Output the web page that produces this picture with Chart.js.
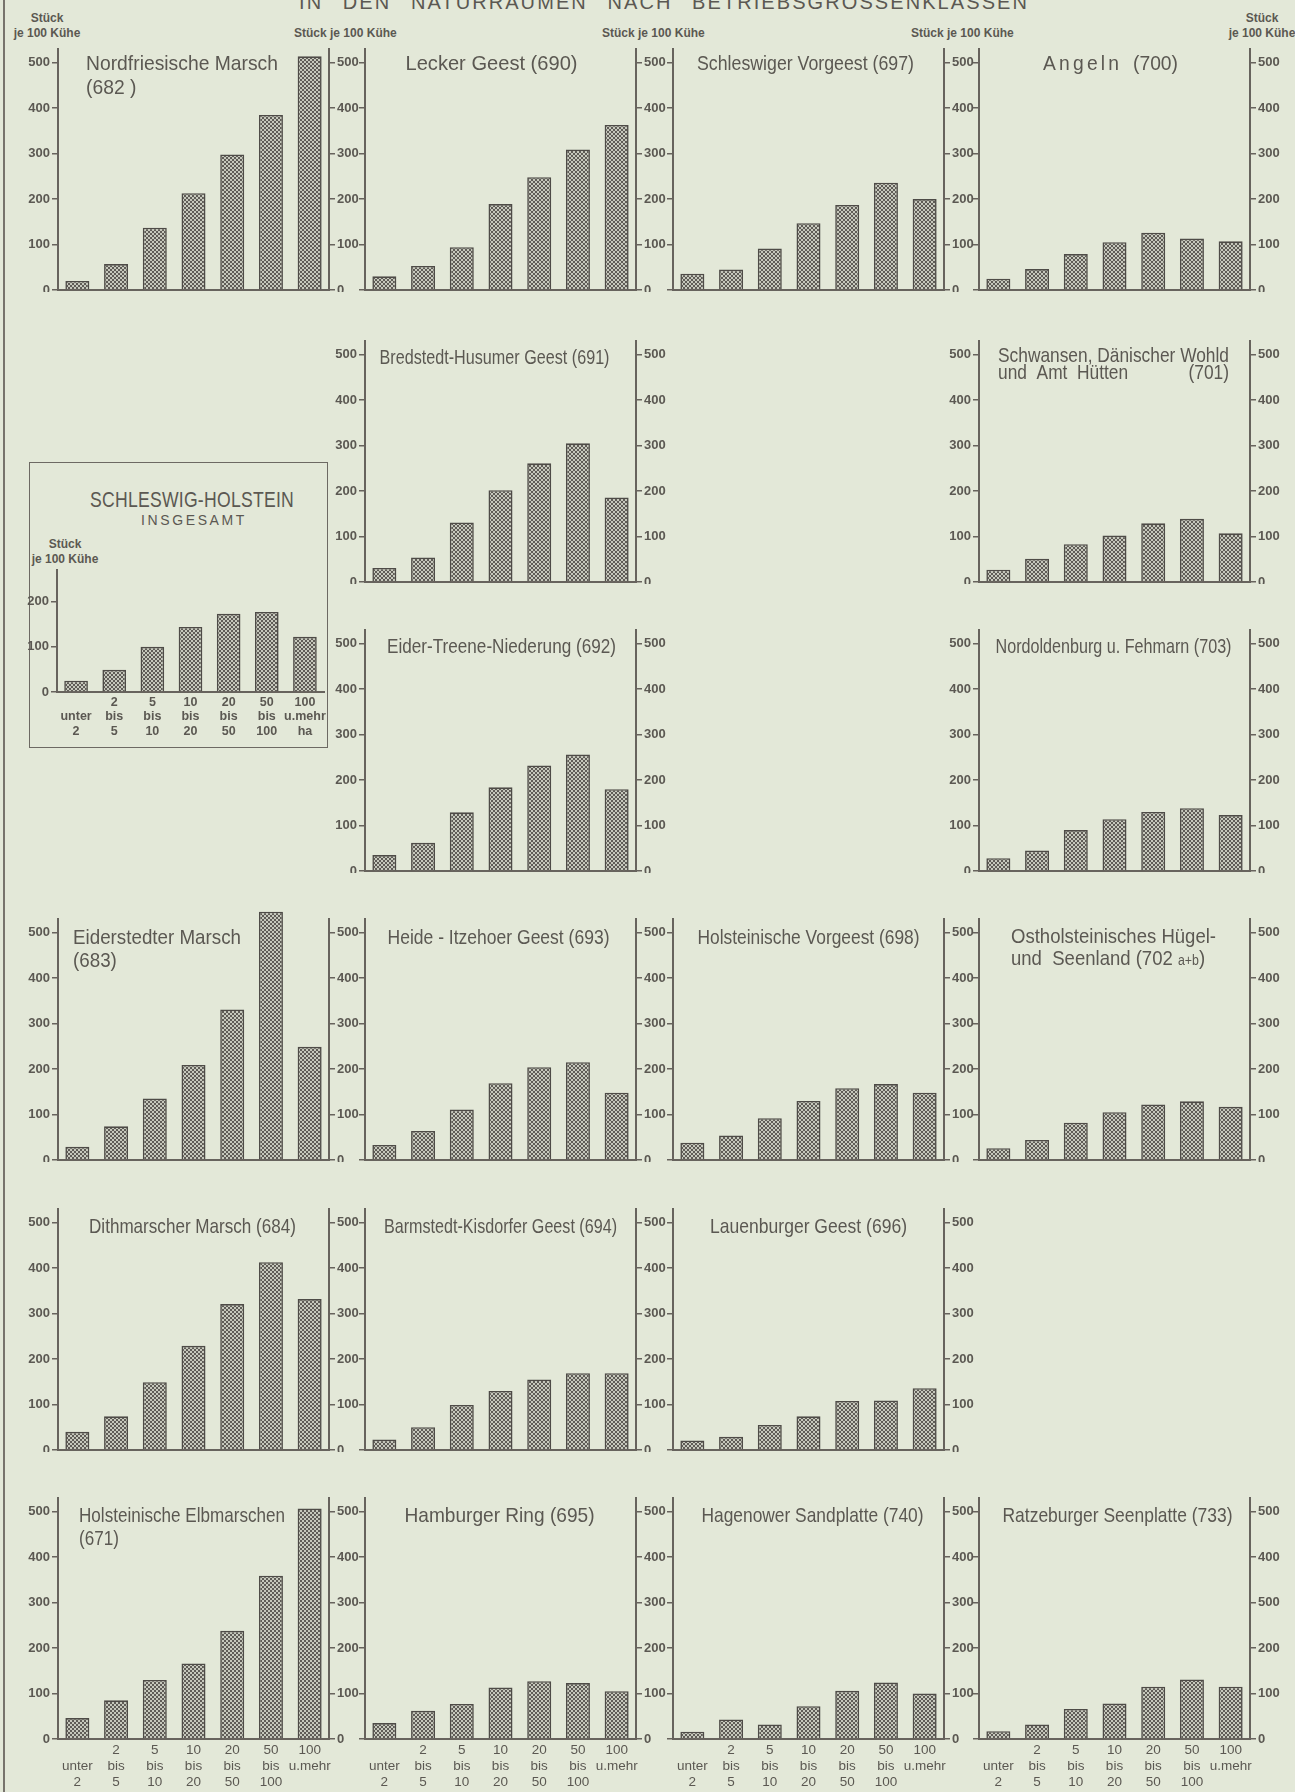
<!DOCTYPE html>
<html lang="de">
<head>
<meta charset="utf-8">
<title>Stück je 100 Kühe in den Naturräumen nach Betriebsgrößenklassen</title>
<script src="https://cdn.jsdelivr.net/npm/chart.js@4.4.1/dist/chart.umd.min.js"></script>
<style>
  html, body { margin: 0; padding: 0; background: #e3e8d8; }
  body {
    width: 1295px; height: 1792px; position: relative; overflow: hidden;
    font-family: 'Liberation Sans', Arial, sans-serif;
    color: #5b5852;
  }
  .frame { position: absolute; left: 3px; top: 0; width: 2px; height: 1792px; background: #77736c; }
  .txt { position: absolute; white-space: nowrap; transform-origin: 0 0; }
  .head { top: -8px; font-size: 20px; line-height: 20px; word-spacing: 12px; }
  .unit { font-weight: bold; font-size: 12px; line-height: 15px; text-align: center; }
  .box { position: absolute; left: 29px; top: 462px; width: 297px; height: 284px; border: 1.5px solid #6d6963; }
  canvas { position: absolute; }
</style>
</head>
<body>
<div class="frame"></div>
<div class="txt head" id="head">IN DEN NATURRÄUMEN NACH BETRIEBSGRÖSSENKLASSEN</div>

<div class="txt unit" style="left:7px;width:80px;top:11px;">Stück<br>je 100 Kühe</div>
<div class="txt unit" style="left:294px;width:100px;top:26px;">Stück je 100 Kühe</div>
<div class="txt unit" style="left:602px;width:100px;top:26px;">Stück je 100 Kühe</div>
<div class="txt unit" style="left:911px;width:100px;top:26px;">Stück je 100 Kühe</div>
<div class="txt unit" style="left:1222px;width:80px;top:11px;">Stück<br>je 100 Kühe</div>

<div class="box"></div>
<div class="txt" id="boxTitle" style="top:489px;font-size:22px;line-height:22px;">SCHLESWIG-HOLSTEIN</div>
<div class="txt" id="boxSub" style="top:513px;font-size:14px;line-height:14px;">INSGESAMT</div>
<div class="txt unit" style="left:25px;width:80px;top:537px;">Stück<br>je 100 Kühe</div>

<script>
// ---- size classes (ha) ----
const sizeClasses = [['', 'unter', '2'], ['2', 'bis', '5'], ['5', 'bis', '10'], ['10', 'bis', '20'],
                     ['20', 'bis', '50'], ['50', 'bis', '100'], ['100', 'u.mehr', '']];
const sizeClassesHa = [['', 'unter', '2'], ['2', 'bis', '5'], ['5', 'bis', '10'], ['10', 'bis', '20'],
                       ['20', 'bis', '50'], ['50', 'bis', '100'], ['100', 'u.mehr', 'ha']];

// ---- axis ticks ----
const yTicks = [0, 100, 200, 300, 400, 500];
const yTickLabels = ['0', '100', '200', '300', '400', '500'];
const ratzeburgerRightLabels = ['0', '100', '200', '500', '400', '500'];
const totalTicks = [0, 100, 200];
const totalTickLabels = ['0', '100', '200'];

// ---- Stück je 100 Kühe per size class ----
const nordfriesischeMarsch     = [20, 57, 137, 213, 298, 385, 514];
const leckerGeest              = [30, 53, 94, 189, 248, 309, 363];
const schleswigerVorgeest      = [36, 45, 91, 147, 187, 236, 200];
const angeln                   = [25, 46, 79, 105, 126, 113, 107];
const bredstedtHusumerGeest    = [31, 54, 131, 202, 261, 305, 186];
const schwansenDaenWohld       = [27, 51, 83, 102, 129, 139, 107];
const eiderTreeneNiederung     = [35, 62, 129, 184, 232, 256, 180];
const nordoldenburgFehmarn     = [28, 45, 90, 114, 130, 138, 123];
const eiderstedterMarsch       = [29, 74, 135, 209, 331, 546, 249];
const heideItzehoerGeest       = [33, 64, 111, 169, 204, 215, 148];
const holsteinischeVorgeest    = [38, 54, 92, 130, 158, 167, 148];
const ostholsteinHuegelland    = [26, 44, 82, 105, 122, 129, 117];
const dithmarscherMarsch       = [40, 74, 149, 229, 321, 413, 332];
const barmstedtKisdorferGeest  = [23, 50, 99, 130, 155, 169, 169];
const lauenburgerGeest         = [21, 29, 55, 74, 108, 109, 136];
const holsteinischeElbmarschen = [46, 85, 130, 166, 238, 359, 507];
const hamburgerRing            = [35, 62, 77, 113, 127, 123, 105];
const hagenowerSandplatte      = [16, 43, 32, 72, 106, 124, 100];
const ratzeburgerSeenplatte    = [17, 32, 66, 78, 115, 131, 115];
const schleswigHolstein        = [25, 49, 100, 144, 173, 177, 122];

// ---- look ----
const FONT = "'Liberation Sans', Arial, sans-serif";
const INK = '#5b5852';
const AXIS = '#67635d';
const BAR_EDGE = '#4e4b47';
Chart.defaults.font.family = FONT;
Chart.defaults.color = INK;

// spread or squeeze a line of HTML lettering to a given width around a centre
function fitText(el, centerX, width, sx) {
  el.style.letterSpacing = '0px';
  const w0 = el.getBoundingClientRect().width;
  const n = el.textContent.length;
  const ls = (width / sx - w0) / n;
  el.style.letterSpacing = ls + 'px';
  el.style.transform = `scaleX(${sx})`;
  el.style.left = (centerX - width / 2) + 'px';
}
fitText(document.getElementById('head'), 664, 730, 1);
fitText(document.getElementById('boxTitle'), 192, 204, 0.8);
fitText(document.getElementById('boxSub'), 194, 106, 1);

// fine checkered fill of the bars
function checkerPattern() {
  const t = document.createElement('canvas');
  t.width = 4; t.height = 4;
  const c = t.getContext('2d');
  c.fillStyle = '#c6c8bc'; c.fillRect(0, 0, 4, 4);
  c.fillStyle = '#5f5c57'; c.fillRect(0, 0, 2, 2); c.fillRect(2, 2, 2, 2);
  return c.createPattern(t, 'repeat');
}

// region name written inside the plot area; the first line is squeezed to width w
const panelTitle = {
  id: 'panelTitle',
  afterDraw(chart, args, o) {
    if (!o || !o.lines) return;
    const { ctx, chartArea: a } = chart;
    ctx.save();
    ctx.fillStyle = INK;
    ctx.textBaseline = 'alphabetic';
    ctx.textAlign = 'left';
    const size = o.size || 21;
    const norm = l => (typeof l === 'string' ? [{ t: l }] : l);
    const rawW = s => {
      if (s.fill) return 0;
      ctx.font = `${s.size || size}px ${FONT}`;
      ctx.letterSpacing = (s.ls || 0) + 'px';
      return ctx.measureText(s.t).width;
    };
    const rawLineW = l => norm(l).reduce((w, s) => w + rawW(s), 0);
    const sx = o.w ? o.w / rawLineW(o.lines[0]) : 0.9;
    const firstW = rawLineW(o.lines[0]) * sx;
    o.lines.forEach((line, i) => {
      const segs = norm(line);
      const natural = rawLineW(line) * sx;
      const hasFill = segs.some(s => s.fill);
      const w = hasFill ? firstW : natural;
      let x = o.align === 'left' ? a.left + o.dx : (a.left + a.right) / 2 - w / 2 + (o.dx || 0);
      const y = a.top + (o.dy || 23) + i * (o.lh || 24);
      segs.forEach(s => {
        if (s.fill) { x += firstW - natural; return; }
        const sw = rawW(s) * sx;
        ctx.save();
        ctx.translate(x, y);
        ctx.scale(sx, 1);
        ctx.fillText(s.t, 0, 0);
        ctx.restore();
        x += sw;
      });
    });
    ctx.restore();
  }
};

// ---- grid of regions ----
const COLS = [58, 365, 673, 979];               // left axis of each column
const BASE = [290, 582, 871, 1160, 1450, 1739]; // zero line of each row
const PLOT_W = 271;
const Y_MAX = 530;
const PLOT_H = 241;
const AXIS_W = 34;

const panels = [
  { r: 0, c: 0, values: nordfriesischeMarsch, title: { align: 'left', dx: 28, dy: 21, lh: 24, w: 192, lines: ['Nordfriesische Marsch', '(682 )'] } },
  { r: 0, c: 1, values: leckerGeest, title: { dy: 21, dx: -9, w: 172, lines: ['Lecker Geest (690)'] } },
  { r: 0, c: 2, values: schleswigerVorgeest, title: { dy: 21, dx: -3, w: 217, lines: ['Schleswiger Vorgeest (697)'] } },
  { r: 0, c: 3, values: angeln, title: { dy: 21, dx: -4, w: 135, lines: [[{ t: 'Angeln', ls: 3.5 }, { t: '  (700)' }]] } },
  { r: 1, c: 1, values: bredstedtHusumerGeest, title: { dx: -6, w: 230, lines: ['Bredstedt-Husumer Geest (691)'] } },
  { r: 1, c: 3, values: schwansenDaenWohld, title: { align: 'left', dx: 19, dy: 21, lh: 17, w: 231, lines: ['Schwansen, Dänischer Wohld', [{ t: 'und  Amt  Hütten' }, { fill: true }, { t: '(701)' }]] } },
  { r: 2, c: 1, values: eiderTreeneNiederung, title: { dx: 1, w: 229, lines: ['Eider-Treene-Niederung (692)'] } },
  { r: 2, c: 3, values: nordoldenburgFehmarn, title: { dx: -1, w: 236, lines: ['Nordoldenburg u. Fehmarn (703)'] } },
  { r: 3, c: 0, values: eiderstedterMarsch, title: { align: 'left', dx: 15, dy: 25, lh: 23, w: 168, lines: ['Eiderstedter Marsch', '(683)'] } },
  { r: 3, c: 1, values: heideItzehoerGeest, title: { dy: 25, dx: -2, w: 222, lines: ['Heide - Itzehoer Geest (693)'] } },
  { r: 3, c: 2, values: holsteinischeVorgeest, title: { dy: 25, w: 222, lines: ['Holsteinische Vorgeest (698)'] } },
  { r: 3, c: 3, values: ostholsteinHuegelland, title: { align: 'left', dx: 32, dy: 24, lh: 22, w: 205, lines: ['Ostholsteinisches Hügel-', [{ t: 'und  Seenland (702 ' }, { t: 'a+b', size: 14 }, { t: ')' }]] } },
  { r: 4, c: 0, values: dithmarscherMarsch, title: { dy: 24, dx: -1, w: 207, lines: ['Dithmarscher Marsch (684)'] } },
  { r: 4, c: 1, values: barmstedtKisdorferGeest, title: { dy: 24, w: 233, lines: ['Barmstedt-Kisdorfer Geest (694)'] } },
  { r: 4, c: 2, values: lauenburgerGeest, title: { dy: 24, w: 197, lines: ['Lauenburger Geest (696)'] } },
  { r: 5, c: 0, values: holsteinischeElbmarschen, title: { align: 'left', dx: 21, dy: 24, lh: 23, w: 206, lines: ['Holsteinische Elbmarschen', '(671)'] } },
  { r: 5, c: 1, values: hamburgerRing, title: { dy: 24, dx: -1, w: 190, lines: ['Hamburger Ring (695)'] } },
  { r: 5, c: 2, values: hagenowerSandplatte, title: { dy: 24, dx: 4, w: 222, lines: ['Hagenower Sandplatte (740)'] } },
  { r: 5, c: 3, values: ratzeburgerSeenplatte, rightLabels: ratzeburgerRightLabels, title: { dy: 24, dx: 3, w: 230, lines: ['Ratzeburger Seenplatte (733)'] } }
];

const occupied = new Set(panels.map(p => p.r + ':' + p.c));
const fill = checkerPattern();

function valueAxis(position, showLabels, ticks, labels, max) {
  return {
    position, min: 0, max,
    afterBuildTicks(s) { s.ticks = ticks.map(v => ({ value: v })); },
    afterFit(s) { s.width = AXIS_W; s.paddingTop = 0; s.paddingBottom = 0; },
    ticks: {
      display: showLabels, padding: 2, color: INK,
      font: { size: 13, weight: 'bold' },
      callback: v => labels[ticks.indexOf(v)]
    },
    grid: { display: true, drawOnChartArea: false, drawTicks: true, tickLength: 6, color: AXIS, lineWidth: 1.5 },
    border: { display: true, color: AXIS, width: 2 }
  };
}

function classAxis(showLabels, height, bold) {
  return {
    type: 'category', offset: true,
    afterFit(s) { s.height = height; s.paddingLeft = 0; s.paddingRight = 0; },
    ticks: {
      display: showLabels, padding: 3, color: INK, autoSkip: false, maxRotation: 0,
      font: bold ? { size: 12.5, weight: 'bold', lineHeight: 1.16 } : { size: 13.5, lineHeight: 1.18 }
    },
    grid: { display: true, drawOnChartArea: false, drawTicks: false, color: AXIS },
    border: { display: true, color: AXIS, width: 2 }
  };
}

function barSet(values) {
  return {
    data: values, backgroundColor: fill, borderColor: BAR_EDGE, borderWidth: 1.6,
    barPercentage: 0.62, categoryPercentage: 1, clip: false
  };
}

function place(left, top, w, h) {
  const cv = document.createElement('canvas');
  cv.width = w; cv.height = h;
  cv.style.left = left + 'px'; cv.style.top = top + 'px';
  cv.style.width = w + 'px'; cv.style.height = h + 'px';
  document.body.appendChild(cv);
  return cv;
}

panels.forEach(p => {
  const bottomRow = p.r === 5;
  const padTop = 14, padBottom = 2, xH = bottomRow ? 58 : 0;
  const w = AXIS_W * 2 + PLOT_W;
  const h = padTop + PLOT_H + xH + padBottom;
  const cv = place(COLS[p.c] - AXIS_W, BASE[p.r] - PLOT_H - padTop, w, h);
  const showLeft = !occupied.has(p.r + ':' + (p.c - 1));
  new Chart(cv, {
    type: 'bar',
    data: { labels: sizeClasses, datasets: [barSet(p.values)] },
    plugins: [panelTitle],
    options: {
      responsive: false, animation: false, devicePixelRatio: 1, events: [],
      layout: { padding: { top: padTop, bottom: padBottom, left: 0, right: 0 } },
      plugins: { legend: { display: false }, tooltip: { enabled: false }, panelTitle: p.title },
      scales: {
        x: classAxis(bottomRow, xH, false),
        y: valueAxis('left', showLeft, yTicks, yTickLabels, Y_MAX),
        y2: valueAxis('right', true, yTicks, p.rightLabels || yTickLabels, Y_MAX)
      }
    }
  });
});

// Schleswig-Holstein insgesamt
(function () {
  const left = 57, right = 324, base = 691, max = 270, plotH = 121.5;
  const padTop = 8, xH = 52, padBottom = 2;
  const w = AXIS_W + (right - left) + 4;
  const h = Math.round(padTop + plotH + xH + padBottom);
  const cv = place(left - AXIS_W, Math.round(base - plotH - padTop), w, h);
  new Chart(cv, {
    type: 'bar',
    data: { labels: sizeClassesHa, datasets: [barSet(schleswigHolstein)] },
    options: {
      responsive: false, animation: false, devicePixelRatio: 1, events: [],
      layout: { padding: { top: padTop, bottom: padBottom, left: 0, right: 4 } },
      plugins: { legend: { display: false }, tooltip: { enabled: false } },
      scales: {
        x: classAxis(true, xH, true),
        y: valueAxis('left', true, totalTicks, totalTickLabels, max)
      }
    }
  });
})();
</script>
</body>
</html>
